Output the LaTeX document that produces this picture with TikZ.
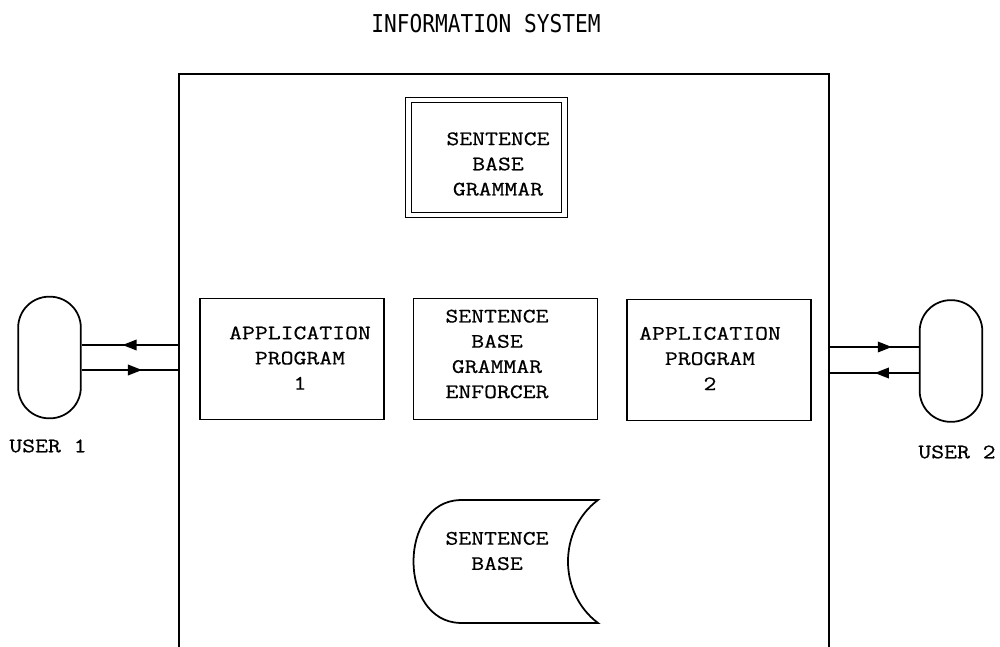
\documentclass[tikz,border=0pt]{standalone}
\usepackage{fontspec}
\setmainfont{Latin Modern Mono}[FakeStretch=1.22,FakeBold=0.6]
\newfontfamily\titlefont{DejaVu Sans Mono}[FakeStretch=0.86]
\usetikzlibrary{decorations.markings,arrows.meta}
\begin{document}
\begin{tikzpicture}[x=0.03cm,y=-0.03cm,
  ink/.style={line width=1.5pt,black},
  lbl/.style={font=\fontsize{17.5}{21.5}\selectfont,align=center,inner sep=0pt},
  progbox/.style={ink,draw,minimum width=5.52cm,minimum height=3.63cm,inner sep=0pt},
  userbox/.style={ink,draw,rounded corners=0.93cm,minimum width=1.88cm,minimum height=3.65cm,inner sep=0pt},
  flow/.style={ink,postaction={decorate},decoration={markings,mark=at position #1 with {\arrow{Triangle[length=12pt,width=9pt]}}}},
]
\useasboundingbox (0,0) rectangle (1000,647);

% title and system frame
\node[font=\titlefont\fontsize{21}{23}\selectfont,inner sep=0pt] (title) at (486,23.5) {INFORMATION SYSTEM};
\draw[ink] (179,647) -- (179,74) -- (829,74) -- (829,647);
\coordinate (frameL) at (179,0);
\coordinate (frameR) at (829,0);

% grammar (double border)
\node[ink,draw,double,double distance=3.5pt,line width=1.2pt,minimum width=4.68cm,minimum height=3.45cm,inner sep=0pt] (grammar) at (486.5,157.5) {};
\node[lbl] (grammartxt) at (498,164) {SENTENCE\\BASE\\GRAMMAR};

% programs and enforcer
\node[progbox] (app1) at (292,359) {};
\node[lbl] (app1txt) at (300,358) {APPLICATION\\PROGRAM\\1};
\node[progbox] (enf) at (505.5,359) {};
\node[lbl] (enftxt) at (497,354) {SENTENCE\\BASE\\GRAMMAR\\ENFORCER};
\node[progbox] (app2) at (719,360) {};
\node[lbl] (app2txt) at (710,358.5) {APPLICATION\\PROGRAM\\2};

% sentence base storage symbol
\draw[ink] (460,500) -- (598,500)
  .. controls (558,530) and (558,593) .. (598,623)
  -- (460,623)
  .. controls (398,621) and (398,502) .. (460,500) -- cycle;
\node[lbl] (sbase) at (497,551) {SENTENCE\\BASE};

% users
\node[userbox] (user1) at (49.5,357.5) {};
\node[userbox] (user2) at (951,361) {};
\node[lbl] (u1lbl) at (48,446) {USER 1};
\node[lbl] (u2lbl) at (957,452) {USER 2};

% user 1 links
\coordinate (u1a) at (user1.east |- 0,345);
\coordinate (u1b) at (user1.east |- 0,370);
\draw[flow=0.58] (frameL |- u1a) -- (u1a);
\draw[flow=0.62] (u1b) -- (frameL |- u1b);

% user 2 links
\coordinate (u2a) at (user2.west |- 0,347);
\coordinate (u2b) at (user2.west |- 0,373);
\draw[flow=0.70] (frameR |- u2a) -- (u2a);
\draw[flow=0.49] (u2b) -- (frameR |- u2b);
\end{tikzpicture}
\end{document}
